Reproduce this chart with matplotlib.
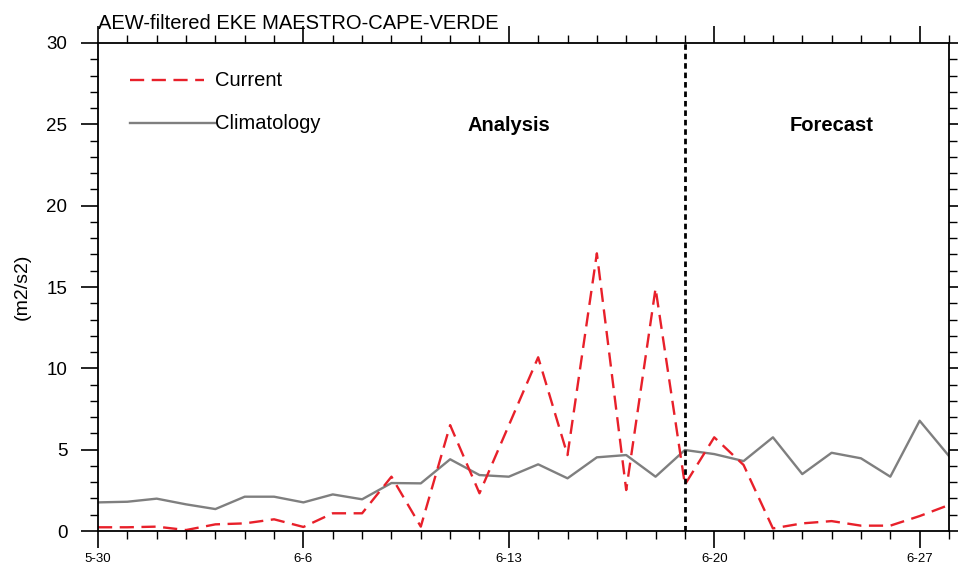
import matplotlib
matplotlib.use("Agg")
import matplotlib.pyplot as plt
from matplotlib.ticker import MultipleLocator

plt.rcParams['font.family'] = ['Liberation Sans', 'DejaVu Sans']

# day index 0 = 5-30
days = list(range(30))
current = [0.23, 0.23, 0.27, 0.06, 0.41, 0.47, 0.72, 0.25, 1.09, 1.09,
           3.34, 0.27, 6.51, 2.32, 6.5, 10.68, 4.67, 17.07, 2.52, 14.92,
           2.85, 5.76, 4.06, 0.16, 0.47, 0.61, 0.33, 0.33, 0.92, 1.60]
climatology = [1.76, 1.80, 1.99, 1.64, 1.35, 2.11, 2.11, 1.76, 2.25, 1.95,
               2.95, 2.93, 4.41, 3.44, 3.34, 4.10, 3.24, 4.53, 4.67, 3.34,
               4.98, 4.73, 4.30, 5.76, 3.50, 4.81, 4.47, 3.34, 6.78, 4.61]
tick_days = [0, 7, 14, 21, 28]
tick_labels = ["5-30", "6-6", "6-13", "6-20", "6-27"]
split_day = 20
title = "AEW-filtered EKE MAESTRO-CAPE-VERDE"

fig = plt.figure(figsize=(9.58, 5.68), dpi=100)
ax = fig.add_axes([0.1023, 0.0651, 0.8883, 0.8592])

ax.plot(days, climatology, color='#7f7f7f', lw=1.7, label='Climatology')
ax.plot(days, current, color='#e8202a', lw=1.7, linestyle=(0, (6, 3.2)), label='Current')
ax.axvline(split_day, color='black', lw=2.0, linestyle=(0, (2.0, 1.4)))

ax.set_xlim(0, 29)
ax.set_ylim(0, 30)

ax.set_xticks(tick_days)
ax.set_xticklabels(tick_labels)
ax.xaxis.set_minor_locator(MultipleLocator(1))
ax.yaxis.set_major_locator(MultipleLocator(5))
ax.yaxis.set_minor_locator(MultipleLocator(1))

ax.tick_params(axis='both', which='both', direction='out', top=True, right=True,
               labeltop=False, labelright=False, color='black')
ax.tick_params(axis='both', which='major', length=12, width=1.2)
ax.tick_params(axis='both', which='minor', length=6, width=1.0)
ax.tick_params(axis='x', which='major', labelsize=9.5, pad=4)
ax.tick_params(axis='y', which='major', labelsize=13.5, pad=10)
for s in ax.spines.values():
    s.set_linewidth(1.3)

ax.set_ylabel("(m2/s2)", fontsize=14)
ax.yaxis.set_label_coords(-0.079, 0.5)
fig.text(0.1023, 0.958, title, fontsize=14.5, ha='left', va='center')

# legend drawn as lines in axes-fraction coordinates
lx0, lx1 = 0.038, 0.137
ax.plot([lx0, lx1 - 0.012], [0.924, 0.924], transform=ax.transAxes, color='#e8202a', lw=1.7,
        linestyle=(0, (6, 3.2)), clip_on=False)
ax.text(lx1, 0.924, "Current", transform=ax.transAxes, fontsize=14.5, va='center', ha='left')
ax.plot([lx0, lx1], [0.836, 0.836], transform=ax.transAxes, color='#7f7f7f', lw=1.7, clip_on=False)
ax.text(lx1, 0.836, "Climatology", transform=ax.transAxes, fontsize=14.5, va='center', ha='left')

ax.text(14, 24.9, "Analysis", fontsize=14.5, fontweight='bold', ha='center', va='center')
ax.text(25, 24.9, "Forecast", fontsize=14.5, fontweight='bold', ha='center', va='center')

fig.savefig("out.png", dpi=100)
